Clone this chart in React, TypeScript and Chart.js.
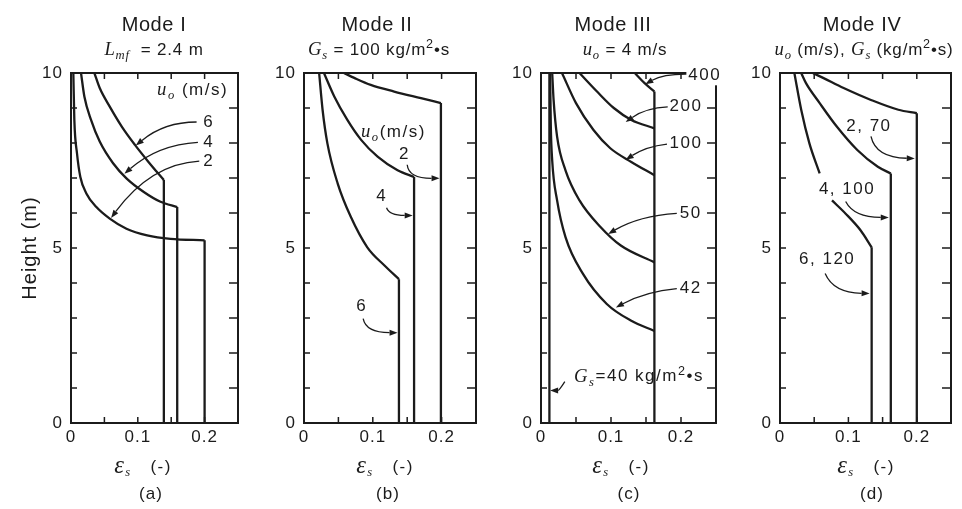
import React, { useEffect, useRef } from "react";
import { Chart, registerables } from "chart.js";
Chart.register(...registerables);

type P = [number, number];

// ---- axis ticks ----
const xTickValues = [0, 0.1, 0.2];
const yTickValues = [0, 5, 10];
const xMinorTickValues = [0.05, 0.1, 0.15, 0.2];
const yMinorTickValues = [1, 2, 3, 4, 5, 6, 7, 8, 9];

// ---- Mode I (Lmf = 2.4 m), uo = 2, 4, 6 m/s : [eps_s, height] ----
const modeI_uo6: P[] = [[0.035, 10], [0.043, 9.57], [0.058, 9.04], [0.076, 8.47], [0.096, 7.94], [0.116, 7.46], [0.139, 6.94], [0.139, 0]];
const modeI_uo4: P[] = [[0.015, 10], [0.02, 9.33], [0.03, 8.66], [0.043, 8.04], [0.063, 7.42], [0.083, 6.99], [0.109, 6.6], [0.134, 6.32], [0.159, 6.17], [0.159, 0]];
const modeI_uo2: P[] = [[0.0035, 10], [0.005, 8.66], [0.009, 7.7], [0.014, 7.03], [0.023, 6.56], [0.038, 6.17], [0.058, 5.84], [0.083, 5.55], [0.114, 5.36], [0.149, 5.26], [0.2, 5.22], [0.2, 0]];

// ---- Mode II (Gs = 100 kg/m2 s), uo = 2, 4, 6 m/s ----
const modeII_uo2: P[] = [[0.058, 10], [0.073, 9.86], [0.097, 9.66], [0.131, 9.47], [0.17, 9.28], [0.199, 9.14], [0.199, 0]];
const modeII_uo4: P[] = [[0.029, 10], [0.044, 9.33], [0.063, 8.66], [0.083, 8.09], [0.107, 7.61], [0.136, 7.22], [0.16, 7.03], [0.16, 0]];
const modeII_uo6: P[] = [[0.022, 10], [0.027, 8.95], [0.034, 7.99], [0.049, 6.84], [0.068, 5.89], [0.092, 5.02], [0.117, 4.5], [0.138, 4.11], [0.138, 0]];

// ---- Mode III (uo = 4 m/s), Gs = 40 ... 400 kg/m2 s ----
const modeIII_dense: P[] = [[0.162, 0], [0.162, 9.47]];
const modeIII_gs40: P[] = [[0.012, 0], [0.012, 10]];
const modeIII_gs42: P[] = [[0.013, 10], [0.014, 8.5], [0.016, 7.5], [0.023, 6.36], [0.035, 5.31], [0.06, 4.26], [0.094, 3.4], [0.129, 2.92], [0.162, 2.63]];
const modeIII_gs50: P[] = [[0.016, 10], [0.018, 9.23], [0.023, 8.18], [0.035, 7.22], [0.055, 6.36], [0.085, 5.6], [0.114, 5.07], [0.162, 4.59]];
const modeIII_gs100: P[] = [[0.03, 10], [0.05, 9.14], [0.075, 8.37], [0.099, 7.85], [0.129, 7.46], [0.162, 7.08]];
const modeIII_gs200: P[] = [[0.055, 10], [0.08, 9.47], [0.104, 9.0], [0.129, 8.66], [0.162, 8.42]];
const modeIII_gs400: P[] = [[0.134, 10], [0.148, 9.71], [0.162, 9.47]];

// ---- Mode IV : (uo, Gs) = (2,70), (4,100), (6,120) ----
const modeIV_2_70: P[] = [[0.048, 10], [0.063, 9.86], [0.093, 9.57], [0.133, 9.23], [0.173, 8.95], [0.2, 8.85], [0.2, 0]];
const modeIV_4_100: P[] = [[0.031, 10], [0.038, 9.71], [0.058, 9.14], [0.083, 8.47], [0.113, 7.8], [0.143, 7.32], [0.162, 7.13], [0.162, 0]];
const modeIV_6_120_upper: P[] = [[0.021, 10], [0.031, 8.95], [0.043, 7.99], [0.058, 7.13]];
const modeIV_6_120_lower: P[] = [[0.076, 6.36], [0.096, 5.98], [0.118, 5.5], [0.134, 5.02], [0.134, 0]];

// ---- styling ----
const SANS = '"Liberation Sans", Arial, Helvetica, sans-serif';
const SERIF = '"Liberation Serif", "Times New Roman", serif';
const INK = "#1b1b1b";
const H = 509;
const PLOT_TOP = 73;
const PLOT_BOTTOM = 423;

type Seg = { t: string; it?: boolean; sub?: boolean; sup?: boolean; k?: number };
type Note = { segs: Seg[]; at: P; arrow?: { from: P; ctrl: P; to: P }; bg?: boolean };
type Series = { pts: P[]; curve: boolean };

const bed = (a: P[]): Series[] => [{ pts: a.slice(0, -1), curve: true }, { pts: a.slice(-2), curve: false }];
const curve = (a: P[]): Series[] => [{ pts: a, curve: true }];
const line = (a: P[]): Series[] => [{ pts: a, curve: false }];

const uo = (rest: string): Seg[] => [{ t: "u", it: true, k: 1.1 }, { t: "o", it: true, sub: true }, { t: rest }];
const n = (t: string): Seg[] => [{ t }];

const PANELS = [
  {
    id: "a", left: 0, width: 250, plotLeft: 71, plotRight: 238, xMax: 0.25,
    title: "Mode I", titleX: 154,
    sub: [{ t: "L", it: true, k: 1.1 }, { t: "mf", it: true, sub: true }, { t: "  = 2.4 m" }] as Seg[], subX: 154,
    epsX: 143, letter: "(a)", letterX: 151, yTitle: "Height (m)",
    series: [...bed(modeI_uo2), ...bed(modeI_uo4), ...bed(modeI_uo6)],
    notes: [
      { segs: uo(" (m/s)"), at: [0.182, 9.51] },
      { segs: n("6"), at: [0.206, 8.6], arrow: { from: [0.188, 8.6], ctrl: [0.14, 8.6], to: [0.097, 7.93] } },
      { segs: n("4"), at: [0.206, 8.02], arrow: { from: [0.19, 8.02], ctrl: [0.13, 7.95], to: [0.08, 7.12] } },
      { segs: n("2"), at: [0.206, 7.48], arrow: { from: [0.192, 7.48], ctrl: [0.12, 7.4], to: [0.06, 5.86] } },
    ] as Note[],
  },
  {
    id: "b", left: 250, width: 238, plotLeft: 304, plotRight: 476, xMax: 0.25,
    title: "Mode II", titleX: 377,
    sub: [{ t: "G", it: true, k: 1.1 }, { t: "s", it: true, sub: true }, { t: " = 100 kg/m" }, { t: "2", sup: true }, { t: "•s" }] as Seg[], subX: 379,
    epsX: 385, letter: "(b)", letterX: 388, yTitle: "",
    series: [...bed(modeII_uo2), ...bed(modeII_uo4), ...bed(modeII_uo6)],
    notes: [
      { segs: uo("(m/s)"), at: [0.13, 8.31] },
      { segs: n("2"), at: [0.146, 7.68], arrow: { from: [0.15, 7.38], ctrl: [0.152, 6.99], to: [0.197, 6.99] } },
      { segs: n("4"), at: [0.113, 6.48], arrow: { from: [0.12, 6.15], ctrl: [0.124, 5.93], to: [0.158, 5.93] } },
      { segs: n("6"), at: [0.084, 3.32], arrow: { from: [0.086, 2.98], ctrl: [0.09, 2.58], to: [0.136, 2.58] } },
    ] as Note[],
  },
  {
    id: "c", left: 488, width: 240, plotLeft: 541, plotRight: 716, xMax: 0.25,
    title: "Mode III", titleX: 613,
    sub: uo(" = 4 m/s"), subX: 625,
    epsX: 621, letter: "(c)", letterX: 629, yTitle: "",
    series: [...line(modeIII_gs40), ...line(modeIII_dense), ...curve(modeIII_gs42), ...curve(modeIII_gs50), ...curve(modeIII_gs100), ...curve(modeIII_gs200), ...curve(modeIII_gs400)],
    notes: [
      { segs: n("400"), at: [0.234, 9.94], bg: true, arrow: { from: [0.21, 9.97], ctrl: [0.175, 9.98], to: [0.149, 9.68] } },
      { segs: n("200"), at: [0.207, 9.05], arrow: { from: [0.181, 9.03], ctrl: [0.15, 9.0], to: [0.121, 8.6] } },
      { segs: n("100"), at: [0.207, 8.0], arrow: { from: [0.18, 7.97], ctrl: [0.15, 7.9], to: [0.121, 7.52] } },
      { segs: n("50"), at: [0.214, 5.99], arrow: { from: [0.194, 5.99], ctrl: [0.14, 5.92], to: [0.096, 5.4] } },
      { segs: n("42"), at: [0.214, 3.84], arrow: { from: [0.194, 3.84], ctrl: [0.15, 3.76], to: [0.107, 3.3] } },
      { segs: [{ t: "G", it: true, k: 1.1 }, { t: "s", it: true, sub: true }, { t: "=40 kg/m" }, { t: "2", sup: true }, { t: "•s" }], at: [0.14, 1.32], arrow: { from: [0.034, 1.18], ctrl: [0.026, 0.93], to: [0.013, 0.93] } },
    ] as Note[],
  },
  {
    id: "d", left: 728, width: 234, plotLeft: 780, plotRight: 951, xMax: 0.25,
    title: "Mode IV", titleX: 862,
    sub: [{ t: "u", it: true, k: 1.1 }, { t: "o", it: true, sub: true }, { t: " (m/s), " }, { t: "G", it: true, k: 1.1 }, { t: "s", it: true, sub: true }, { t: " (kg/m" }, { t: "2", sup: true }, { t: "•s)" }] as Seg[], subX: 864,
    epsX: 866, letter: "(d)", letterX: 872, yTitle: "",
    series: [...bed(modeIV_2_70), ...bed(modeIV_4_100), ...curve(modeIV_6_120_upper), ...bed(modeIV_6_120_lower)],
    notes: [
      { segs: n("2, 70"), at: [0.13, 8.48], arrow: { from: [0.133, 8.19], ctrl: [0.14, 7.58], to: [0.197, 7.56] } },
      { segs: n("4, 100"), at: [0.098, 6.68], arrow: { from: [0.096, 6.33], ctrl: [0.108, 5.88], to: [0.159, 5.87] } },
      { segs: n("6, 120"), at: [0.069, 4.67], arrow: { from: [0.066, 4.27], ctrl: [0.078, 3.72], to: [0.131, 3.7] } },
    ] as Note[],
  },
];

type Panel = (typeof PANELS)[number];

function drawRich(ctx: CanvasRenderingContext2D, segs: Seg[], cx: number, cy: number, size: number, spacing: number, bg = false) {
  const parts = segs.map((s) => {
    const sz = (s.sub || s.sup ? size * 0.74 : size) * (s.k || 1);
    const font = `${s.it ? "italic " : ""}${sz.toFixed(1)}px ${s.it ? SERIF : SANS}`;
    ctx.font = font;
    (ctx as any).letterSpacing = `${spacing}px`;
    const w = ctx.measureText(s.t).width;
    const dy = s.sub ? size * 0.32 : s.sup ? -size * 0.33 : 0;
    return { s, font, w, dy };
  });
  const total = parts.reduce((a, p) => a + p.w, 0);
  let x = cx - total / 2;
  if (bg) {
    ctx.fillStyle = "#fff";
    ctx.fillRect(x - 2, cy - size * 0.6, total + 4, size * 1.2);
  }
  ctx.fillStyle = INK;
  ctx.textBaseline = "middle";
  ctx.textAlign = "left";
  for (const p of parts) {
    ctx.font = p.font;
    (ctx as any).letterSpacing = `${spacing}px`;
    ctx.fillText(p.s.t, x, cy + p.dy);
    x += p.w;
  }
}

function makeDeco(p: Panel) {
  return {
    id: "deco_" + p.id,
    beforeDraw(chart: any) {
      (chart.ctx as any).letterSpacing = "1px";
    },
    afterDraw(chart: any) {
      const ctx: CanvasRenderingContext2D = chart.ctx;
      const xs = chart.scales.x;
      const ys = chart.scales.y;
      const X = (v: number) => xs.getPixelForValue(v);
      const Y = (v: number) => ys.getPixelForValue(v);
      const { left, right, top, bottom } = chart.chartArea;
      ctx.save();
      ctx.strokeStyle = INK;
      ctx.fillStyle = INK;
      ctx.lineWidth = 1.5;
      ctx.beginPath();
      for (const v of yMinorTickValues) {
        ctx.moveTo(left, Y(v)); ctx.lineTo(left + 6, Y(v));
        ctx.moveTo(right - 9, Y(v)); ctx.lineTo(right, Y(v));
      }
      for (const v of xMinorTickValues) {
        ctx.moveTo(X(v), bottom); ctx.lineTo(X(v), bottom - 6);
        ctx.moveTo(X(v), top); ctx.lineTo(X(v), top + 6);
      }
      ctx.stroke();
      ctx.lineWidth = 2;
      ctx.strokeRect(left, top, right - left, bottom - top);

      // annotations
      for (const nt of p.notes) {
        if (nt.arrow) {
          const a = nt.arrow;
          const f = { x: X(a.from[0]), y: Y(a.from[1]) };
          const c = { x: X(a.ctrl[0]), y: Y(a.ctrl[1]) };
          const t = { x: X(a.to[0]), y: Y(a.to[1]) };
          const ang = Math.atan2(t.y - c.y, t.x - c.x);
          const len = 8, half = 3;
          const bx = t.x - len * Math.cos(ang), by = t.y - len * Math.sin(ang);
          ctx.lineWidth = 1.3;
          ctx.beginPath();
          ctx.moveTo(f.x, f.y);
          ctx.quadraticCurveTo(c.x, c.y, bx, by);
          ctx.stroke();
          ctx.beginPath();
          ctx.moveTo(t.x, t.y);
          ctx.lineTo(bx + half * Math.sin(ang), by - half * Math.cos(ang));
          ctx.lineTo(bx - half * Math.sin(ang), by + half * Math.cos(ang));
          ctx.closePath();
          ctx.fill();
        }
        drawRich(ctx, nt.segs, X(nt.at[0]), Y(nt.at[1]), 17, 1.5, !!nt.bg);
      }

      // headings and axis captions
      const off = p.left;
      drawRich(ctx, [{ t: p.title }], p.titleX - off, 25, 20, 0.6);
      drawRich(ctx, p.sub, p.subX - off, 50, 17, 0.8);
      drawRich(ctx, [{ t: "ε", it: true, k: 1.45 }, { t: "s", it: true, sub: true }, { t: "   (-)" }], p.epsX - off, 467, 17, 1.5);
      drawRich(ctx, [{ t: p.letter }], p.letterX - off, 494, 17, 1);
      ctx.restore();
    },
  };
}

function buildConfig(p: Panel): any {
  const plotLeftLocal = p.plotLeft - p.left;
  const rightPad = p.width - (p.plotRight - p.left);
  return {
    type: "scatter",
    data: {
      datasets: p.series.map((s) => ({
        data: s.pts.map(([x, y]) => ({ x, y })),
        showLine: true,
        borderColor: INK,
        backgroundColor: INK,
        borderWidth: 2.3,
        pointRadius: 0,
        pointHoverRadius: 0,
        tension: s.curve ? 0.4 : 0,
        cubicInterpolationMode: s.curve ? "monotone" : "default",
        borderJoinStyle: "miter",
        fill: false,
      })),
    },
    options: {
      animation: false,
      responsive: false,
      devicePixelRatio: 1,
      events: [],
      layout: { padding: { left: 0, right: rightPad, top: PLOT_TOP, bottom: 0 } },
      plugins: { legend: { display: false }, tooltip: { enabled: false }, title: { display: false } },
      scales: {
        x: {
          type: "linear",
          min: 0,
          max: p.xMax,
          grid: { display: false, drawTicks: false },
          border: { display: false },
          afterBuildTicks: (s: any) => { s.ticks = xTickValues.map((v) => ({ value: v })); },
          afterFit: (s: any) => { s.height = H - PLOT_BOTTOM; },
          ticks: {
            color: INK,
            font: { family: SANS, size: 17 },
            padding: 4,
            maxRotation: 0,
            autoSkip: false,
            callback: (v: number) => (v === 0 ? "0" : Number(v).toFixed(1)),
          },
        },
        y: {
          type: "linear",
          min: 0,
          max: 10,
          grid: { display: false, drawTicks: false },
          border: { display: false },
          afterBuildTicks: (s: any) => { s.ticks = yTickValues.map((v) => ({ value: v })); },
          afterFit: (s: any) => { s.width = plotLeftLocal; },
          ticks: {
            color: INK,
            font: { family: SANS, size: 17 },
            padding: 8,
            autoSkip: false,
            callback: (v: number) => String(v),
          },
          title: {
            display: !!p.yTitle,
            text: p.yTitle,
            color: INK,
            font: { family: SANS, size: 20 },
            padding: { top: 18, bottom: 0 },
          },
        },
      },
    },
    plugins: [makeDeco(p)],
  };
}

function PanelChart({ p }: { p: Panel }) {
  const ref = useRef<HTMLCanvasElement | null>(null);
  useEffect(() => {
    if (!ref.current) return;
    const chart = new Chart(ref.current, buildConfig(p));
    return () => chart.destroy();
  }, [p]);
  return (
    <canvas
      ref={ref}
      width={p.width}
      height={H}
      style={{ position: "absolute", left: p.left, top: 0, width: p.width, height: H }}
    />
  );
}

export default function App() {
  return (
    <div style={{ position: "fixed", left: 0, top: 0, width: 962, height: H, background: "#fff", overflow: "hidden" }}>
      {PANELS.map((p) => (
        <PanelChart key={p.id} p={p} />
      ))}
    </div>
  );
}
